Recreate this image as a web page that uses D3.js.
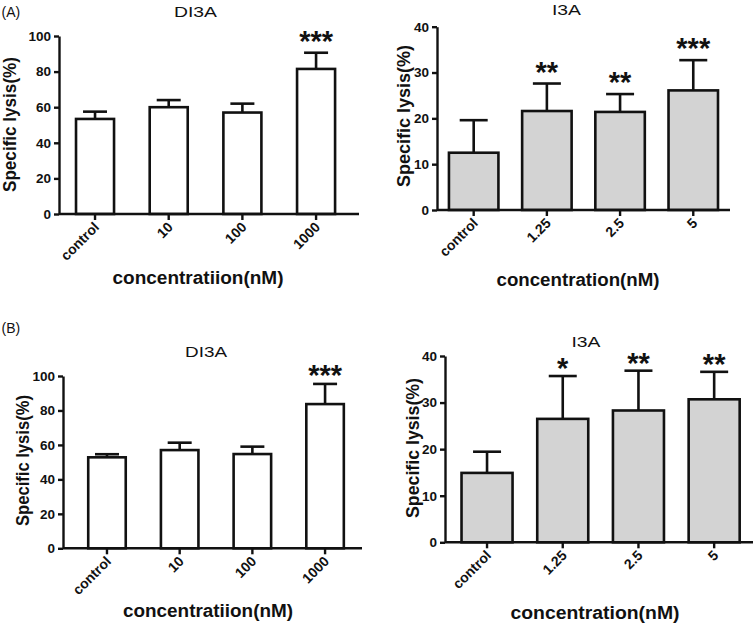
<!DOCTYPE html>
<html><head><meta charset="utf-8">
<script src="https://cdn.jsdelivr.net/npm/d3@7"></script>
<style>body{margin:0;background:#fff}svg{display:block}text{font-family:"Liberation Sans",Arial,sans-serif}</style>
</head><body>
<svg id="c" width="755" height="626"></svg>
<script>
// Data
const catsDI3A = ["control", "10", "100", "1000"];
const catsI3A = ["control", "1.25", "2.5", "5"];
const aDI3Amean = [53.4, 60, 57, 81.5];
const aDI3Aerr = [4.1, 4, 5, 9.1];
const aDI3Asig = ["", "", "", "***"];
const aI3Amean = [12.5, 21.6, 21.4, 26.1];
const aI3Aerr = [7.1, 6, 3.9, 6.6];
const aI3Asig = ["", "**", "**", "***"];
const bDI3Amean = [52.8, 57, 54.7, 83.7];
const bDI3Aerr = [1.8, 4.3, 4.3, 11.7];
const bDI3Asig = ["", "", "", "***"];
const bI3Amean = [14.9, 26.5, 28.3, 30.7];
const bI3Aerr = [4.55, 9.2, 8.55, 5.9];
const bI3Asig = ["", "*", "**", "**"];
const ticksDI3A = [0, 20, 40, 60, 80, 100];
const ticksI3A = [0, 10, 20, 30, 40];

const svg = d3.select("#c");
const FF = "'Liberation Sans',Arial,sans-serif";

function panel(o) {
  const g = svg.append("g");
  const x = d3.scaleBand().domain(o.cats).range(o.range).paddingInner(o.padIn).paddingOuter(0.25);
  const y = d3.scaleLinear().domain([0, o.ymax]).range([o.yb, o.yt]);
  const data = o.cats.map((c, i) => ({c, m: o.mean[i], e: o.err[i], s: o.sig[i]}));
  const cx = d => x(d.c) + x.bandwidth() / 2;
  g.selectAll(".eb").data(data).join("line")
    .attr("x1", cx).attr("x2", cx)
    .attr("y1", d => y(d.m)).attr("y2", d => y(d.m + d.e))
    .attr("stroke", "#111").attr("stroke-width", 2.6);
  g.selectAll(".ec").data(data).join("line")
    .attr("x1", d => cx(d) - o.cap).attr("x2", d => cx(d) + o.cap)
    .attr("y1", d => y(d.m + d.e)).attr("y2", d => y(d.m + d.e))
    .attr("stroke", "#111").attr("stroke-width", 2.6);
  g.selectAll(".bar").data(data).join("rect")
    .attr("x", d => x(d.c)).attr("width", x.bandwidth())
    .attr("y", d => y(d.m)).attr("height", d => y(0) - y(d.m))
    .attr("fill", o.fill).attr("stroke", "#111").attr("stroke-width", 2.6);
  g.selectAll(".sig").data(data).join("text")
    .attr("x", cx)
    .attr("y", d => y(d.m + d.e) - o.sigOff)
    .attr("text-anchor", "middle").attr("font-size", 29).attr("font-weight", "bold")
    .attr("fill", "#111").text(d => d.s);
  const ya = g.append("g").attr("transform", `translate(${o.x0},0)`)
    .call(d3.axisLeft(y).tickValues(o.ticks).tickSize(5).tickPadding(3).tickSizeOuter(0));
  ya.select(".domain").attr("stroke", "#111").attr("stroke-width", 2.4);
  ya.selectAll(".tick line").attr("stroke", "#111").attr("stroke-width", 2.4);
  ya.selectAll("text").attr("font-size", 13.5).attr("font-weight", "bold").attr("fill", "#111")
    .attr("font-family", FF);
  const xa = g.append("g").attr("transform", `translate(0,${o.yb})`)
    .call(d3.axisBottom(x).tickSize(6).tickSizeOuter(0));
  xa.select(".domain").attr("stroke", "#111").attr("stroke-width", 2.4).attr("d", `M${o.x0},0H${o.xe}`);
  xa.selectAll(".tick line").attr("stroke", "#111").attr("stroke-width", 2.4);
  xa.selectAll("text").attr("font-size", 14).attr("font-weight", "bold").attr("fill", "#111")
    .attr("font-family", FF)
    .attr("text-anchor", "end").attr("dy", null).attr("y", 0)
    .attr("transform", "translate(5,14) rotate(-45)");
  g.append("text").attr("x", o.tx).attr("y", o.ty).attr("text-anchor", "middle")
    .attr("font-size", 15).attr("fill", "#111")
    .attr("textLength", o.tw).attr("lengthAdjust", "spacingAndGlyphs").text(o.title);
  g.append("text").attr("x", o.xtx).attr("y", o.xty).attr("text-anchor", "middle")
    .attr("font-size", 18).attr("font-weight", "bold").attr("fill", "#111")
    .attr("textLength", o.xtw).attr("lengthAdjust", "spacingAndGlyphs").text(o.xtitle);
  g.append("text").attr("transform", `translate(${o.ytx},${o.yty}) rotate(-90)`).attr("text-anchor", "middle")
    .attr("font-size", 17.5).attr("font-weight", "bold").attr("fill", "#111")
    .attr("textLength", o.ytw).attr("lengthAdjust", "spacingAndGlyphs").text("Specific lysis(%)");
}

panel({cats: catsDI3A, mean: aDI3Amean, err: aDI3Aerr, sig: aDI3Asig, ticks: ticksDI3A, ymax: 100,
  x0: 59, xe: 359, range: [57.6, 353.5], padIn: 0.484, yb: 214, yt: 36, fill: "#fff", cap: 12, sigOff: 2,
  title: "DI3A", tx: 195.5, ty: 17, tw: 43,
  xtitle: "concentratiion(nM)", xtx: 198, xty: 284, xtw: 171, ytx: 16, yty: 124.5, ytw: 135});
panel({cats: catsI3A, mean: aI3Amean, err: aI3Aerr, sig: aI3Asig, ticks: ticksI3A, ymax: 40,
  x0: 437, xe: 730, range: [430.65, 736.3], padIn: 0.324, yb: 210, yt: 26.7, fill: "#d3d3d3", cap: 14, sigOff: 2,
  title: "I3A", tx: 566.5, ty: 15, tw: 29,
  xtitle: "concentration(nM)", xtx: 578, xty: 286, xtw: 163, ytx: 410, yty: 116, ytw: 142});
panel({cats: catsDI3A, mean: bDI3Amean, err: bDI3Aerr, sig: bDI3Asig, ticks: ticksDI3A, ymax: 100,
  x0: 63, xe: 362, range: [70.05, 362], padIn: 0.484, yb: 548.3, yt: 376, fill: "#fff", cap: 12, sigOff: -1,
  title: "DI3A", tx: 206, ty: 357, tw: 42,
  xtitle: "concentratiion(nM)", xtx: 208, xty: 617, xtw: 170, ytx: 28.5, yty: 460.5, ytw: 131});
panel({cats: catsI3A, mean: bI3Amean, err: bI3Aerr, sig: bI3Asig, ticks: ticksI3A, ymax: 40,
  x0: 445, xe: 753, range: [442.6, 758.6], padIn: 0.326, yb: 542.3, yt: 356, fill: "#d3d3d3", cap: 14, sigOff: -2,
  title: "I3A", tx: 586, ty: 347, tw: 29,
  xtitle: "concentration(nM)", xtx: 595, xty: 619, xtw: 169, ytx: 418.5, yty: 448, ytw: 140});

svg.append("text").attr("x", 1.5).attr("y", 17).attr("font-size", 14).attr("fill", "#111").text("(A)");
svg.append("text").attr("x", 1.5).attr("y", 333).attr("font-size", 14).attr("fill", "#111").text("(B)");
</script>
</body></html>
